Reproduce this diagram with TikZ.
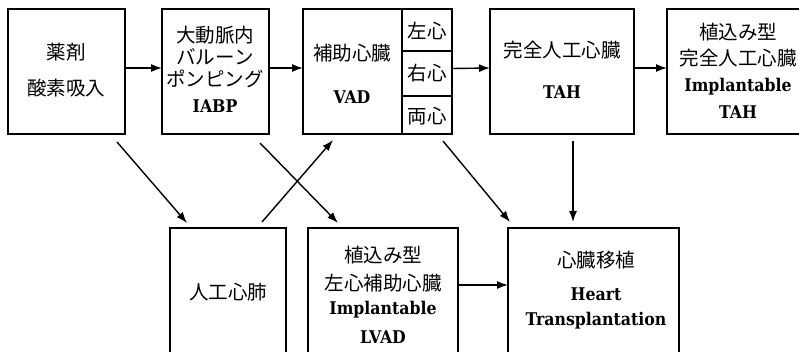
\documentclass[tikz,border=0pt]{standalone}
\usepackage{fontspec}
\setmainfont{DejaVu Serif}
\newfontfamily\enf{DejaVu Serif Condensed}
\newfontfamily\jp{Noto Sans CJK JP}
\usetikzlibrary{arrows.meta,calc}
\tikzset{
  box/.style={draw, line width=1.4pt, anchor=north west, inner sep=0pt, outer sep=0pt},
  jt/.style={font=\jp\fontsize{19.5}{19.5}\selectfont, inner sep=0pt},
  et/.style={font=\enf\bfseries\fontsize{17.5}{17.5}\selectfont, inner sep=0pt},
  arr/.style={line width=1.4pt, -{Latex[length=11pt,width=8pt]}}
}
\begin{document}
\begin{tikzpicture}[x=1pt,y=-1pt]
\useasboundingbox (0,0) rectangle (799,352);
\clip (0,0) rectangle (799,352);
% top row boxes
\node[box, minimum width=117pt, minimum height=125pt] (b1) at (8,9) {};
\node[box, minimum width=107pt, minimum height=125pt] (b2) at (162,9) {};
\node[box, minimum width=99pt, minimum height=125pt] (vad) at (303,9) {};
\node[box, minimum width=50pt, minimum height=42pt] (vl) at (402,9) {};
\node[box, minimum width=50pt, minimum height=45pt] (vr) at (402,51) {};
\node[box, minimum width=50pt, minimum height=38pt] (vb) at (402,96) {};
\node[box, minimum width=144pt, minimum height=125pt] (tah) at (490,9) {};
\node[box, minimum width=142pt, minimum height=125pt] (itah) at (667,9) {};
% bottom row boxes
\node[box, minimum width=116pt, minimum height=142pt] (ecmo) at (170,228) {};
\node[box, minimum width=150pt, minimum height=142pt] (lvad) at (308,228) {};
\node[box, minimum width=171pt, minimum height=142pt] (htx) at (508,228) {};
% texts
\node[jt] (t1a) at (66,52) {薬剤};
\node[jt] (t1b) at (66,88) {酸素吸入};
\node[jt] (t2a) at (215,35) {大動脈内};
\node[jt] (t2b) at (215,57) {バルーン};
\node[jt] (t2c) at (215,79) {ポンピング};
\node[et] (t2d) at (215,106) {IABP};
\node[jt] (t3a) at (352,53) {補助心臓};
\node[et] (t3b) at (352,97) {VAD};
\node[jt] (t3l) at (427,31) {左心};
\node[jt] (t3r) at (427,73) {右心};
\node[jt] (t3b2) at (427,116) {両心};
\node[jt] (t4a) at (562,50) {完全人工心臓};
\node[et] (t4b) at (562,92) {TAH};
\node[jt] (t5a) at (738,32) {植込み型};
\node[jt] (t5b) at (738,58) {完全人工心臓};
\node[et] (t5c) at (738,87) {Implantable};
\node[et] (t5d) at (738,112) {TAH};
\node[jt] (t6) at (228,292) {人工心肺};
\node[jt] (t7a) at (383,255) {植込み型};
\node[jt] (t7b) at (383,283) {左心補助心臓};
\node[et] (t7c) at (383,310) {Implantable};
\node[et] (t7d) at (383,337) {LVAD};
\node[jt] (t8a) at (596,260) {心臓移植};
\node[et] (t8b) at (596,294) {Heart};
\node[et] (t8c) at (596,321) {Transplantation};
% connectors
\draw[arr] ([yshift=3.5pt]b1.east) -- ([yshift=3.5pt]b2.west);
\draw[arr] ([yshift=3.5pt]b2.east) -- ([yshift=3.5pt]vad.west);
\draw[arr] ([yshift=5pt]vr.east) -- ([yshift=3.5pt]tah.west);
\draw[arr] ([yshift=3.5pt]tah.east) -- ([yshift=3.5pt]itah.west);
\draw[arr] ($(b1.south east)+(-8,8)$) -- ($(ecmo.north west)+(17,-5)$);
\draw[arr] ($(b2.south east)+(-9,9)$) -- ($(lvad.north west)+(30,-5)$);
\draw[arr] ($(ecmo.north east)+(-24,-6)$) -- ($(vad.south west)+(30,6)$);
\draw[arr] ($(vb.south east)+(-9,7)$) -- ($(htx.north west)+(2,-6)$);
\draw[arr] ($(tah.south west)+(83,7)$) -- ($(htx.north west)+(65,-6)$);
\draw[arr] ([yshift=14pt]lvad.east) -- ([yshift=14pt]htx.west);
\end{tikzpicture}
\end{document}
